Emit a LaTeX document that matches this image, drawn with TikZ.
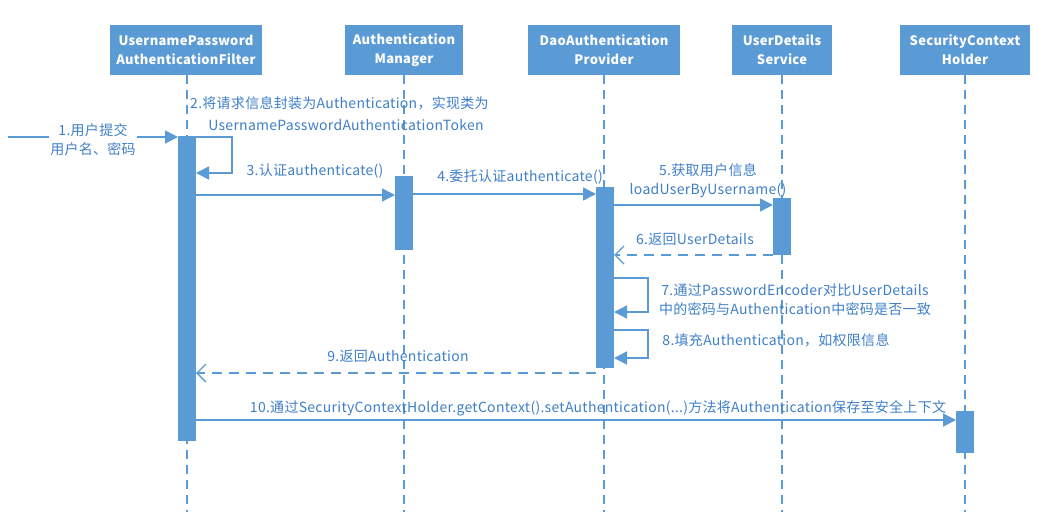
\documentclass[tikz,border=0pt]{standalone}
\usepackage{fontspec}
\setmainfont{Noto Sans CJK SC}[LetterSpace=2]
\usetikzlibrary{arrows.meta}
\definecolor{bx}{HTML}{5B9BD5}
\definecolor{tx}{HTML}{3F7FC8}
\begin{document}
\begin{tikzpicture}[x=1pt,y=-1pt,
  head/.style={fill=bx,text=white,font=\fontsize{13}{19}\selectfont\bfseries,align=center,inner sep=0pt},
  life/.style={bx,dashed,dash pattern=on 9pt off 6pt,line width=1.3pt},
  act/.style={fill=bx,draw=none},
  msg/.style={bx,line width=1.4pt,-{Triangle[length=13pt,width=13pt]}},
  ret/.style={bx,line width=1.4pt,dashed,dash pattern=on 10pt off 7pt,-{Straight Barb[length=9pt,width=18pt]}},
  lbl/.style={text=tx,font=\fontsize{14}{19}\selectfont,align=center,inner sep=1pt}]
\useasboundingbox (0,0) rectangle (1038,519);
\fill[white] (0,0) rectangle (1038,519);
% lifelines
\foreach \x/\n in {187/a,404/b,604/c,782/d,965/e}{
  \draw[life] (\x,75) -- (\x,512);}
% headers
\node[head,minimum width=152pt,minimum height=50pt] (h1) at (186,50) {UsernamePassword\\AuthenticationFilter};
\node[head,minimum width=118pt,minimum height=50pt] (h2) at (404,50) {Authentication\\Manager};
\node[head,minimum width=152pt,minimum height=50pt] (h3) at (604,50) {DaoAuthentication\\Provider};
\node[head,minimum width=100pt,minimum height=50pt] (h4) at (782,50) {UserDetails\\Service};
\node[head,minimum width=130pt,minimum height=50pt] (h5) at (965,50) {SecurityContext\\Holder};
% activations
\fill[act] (178,136) rectangle (196,441);
\fill[act] (395,176) rectangle (413,250);
\fill[act] (596,187) rectangle (614,368);
\fill[act] (773,198) rectangle (791,255);
\fill[act] (956,411) rectangle (974,453);
\coordinate (s0) at (8,137); \coordinate (a1) at (178,137);
% 1
\draw[msg] (s0) -- (a1);
\node[lbl,fill=white] (l1) at (93,140) {1.用户提交\\用户名、密码};
% 2
\coordinate (a2s) at (196,137); \coordinate (a2e) at (196,173);
\draw[msg] (a2s) -- (232,137) -- (232,173) -- (a2e);
\node[lbl,anchor=west] (l2a) at (189,103) {2.将请求信息封装为Authentication，实现类为};
\node[lbl] (l2b) at (346,125) {UsernamePasswordAuthenticationToken};
% 3
\coordinate (a3s) at (196,195); \coordinate (a3e) at (395,195);
\draw[msg] (a3s) -- (a3e);
\node[lbl] (l3) at (315,171) {3.认证authenticate()};
% 4
\coordinate (a4s) at (413,194); \coordinate (a4e) at (596,194);
\draw[msg] (a4s) -- (a4e);
\node[lbl] (l4) at (520,177) {4.委托认证authenticate()};
% 5
\coordinate (a5s) at (614,205); \coordinate (a5e) at (773,205);
\draw[msg] (a5s) -- (a5e);
\node[lbl] (l5) at (708,181) {5.获取用户信息\\loadUserByUsername()};
% 6
\coordinate (a6s) at (773,255); \coordinate (a6e) at (614,255);
\draw[ret] (a6s) -- (a6e);
\node[lbl] (l6) at (695,239) {6.返回UserDetails};
% 7
\coordinate (a7s) at (614,278); \coordinate (a7e) at (614,312);
\draw[msg] (a7s) -- (648,278) -- (648,312) -- (a7e);
\node[lbl] (l7) at (795,300) {7.通过PasswordEncoder对比UserDetails\\中的密码与Authentication中密码是否一致};
% 8
\coordinate (a8s) at (614,330); \coordinate (a8e) at (614,358);
\draw[msg] (a8s) -- (648,330) -- (648,358) -- (a8e);
\node[lbl] (l8) at (776,340) {8.填充Authentication，如权限信息};
% 9
\coordinate (a9s) at (596,373); \coordinate (a9e) at (196,373);
\draw[ret] (a9s) -- (a9e);
\node[lbl] (l9) at (398,356) {9.返回Authentication};
% 10
\coordinate (a10s) at (196,420); \coordinate (a10e) at (956,420);
\draw[msg] (a10s) -- (a10e);
\node[lbl] (l10) at (598,408) {10.通过SecurityContextHolder.getContext().setAuthentication(...)方法将Authentication保存至安全上下文};
\end{tikzpicture}
\end{document}
